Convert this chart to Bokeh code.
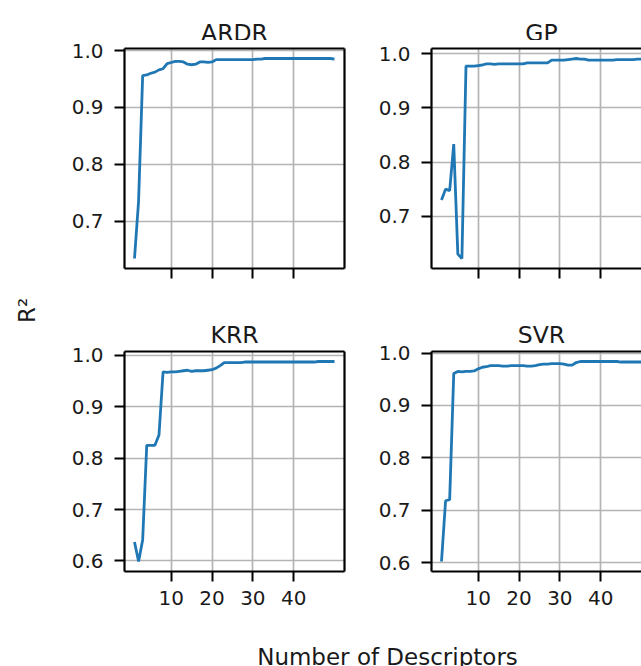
import math

from bokeh.embed import file_html
from bokeh.layouts import column, row
from bokeh.models import FixedTicker, Label, LinearAxis, NumeralTickFormatter, Range1d
from bokeh.plotting import figure
from bokeh.resources import INLINE

# ---- data: R^2 versus number of descriptors for four regressors ----
n_descriptors = list(range(1, 51))

ardr_r2 = [0.634, 0.735, 0.956, 0.957, 0.960, 0.962, 0.966, 0.968, 0.977, 0.979,
           0.981, 0.981, 0.980, 0.976, 0.975, 0.976, 0.980, 0.980, 0.979, 0.980,
           0.984, 0.984, 0.984, 0.984, 0.984, 0.984, 0.984, 0.984, 0.984, 0.984,
           0.985, 0.985, 0.986, 0.986, 0.986, 0.986, 0.986, 0.986, 0.986, 0.986,
           0.986, 0.986, 0.986, 0.986, 0.986, 0.986, 0.986, 0.986, 0.986, 0.985]

gp_r2 = [0.730, 0.750, 0.747, 0.833, 0.630, 0.622, 0.977, 0.977, 0.977, 0.978,
         0.979, 0.981, 0.981, 0.980, 0.981, 0.981, 0.981, 0.981, 0.981, 0.981,
         0.981, 0.983, 0.983, 0.983, 0.983, 0.983, 0.983, 0.988, 0.988, 0.988,
         0.988, 0.989, 0.990, 0.991, 0.990, 0.990, 0.988, 0.988, 0.988, 0.988,
         0.988, 0.988, 0.988, 0.989, 0.989, 0.989, 0.989, 0.989, 0.990, 0.990]

krr_r2 = [0.637, 0.599, 0.641, 0.825, 0.825, 0.825, 0.845, 0.968, 0.967, 0.968,
          0.968, 0.969, 0.970, 0.971, 0.969, 0.970, 0.970, 0.970, 0.971, 0.972,
          0.975, 0.980, 0.986, 0.986, 0.986, 0.986, 0.986, 0.987, 0.987, 0.987,
          0.987, 0.987, 0.987, 0.987, 0.987, 0.987, 0.987, 0.987, 0.987, 0.987,
          0.987, 0.987, 0.987, 0.987, 0.987, 0.988, 0.988, 0.988, 0.988, 0.988]

svr_r2 = [0.602, 0.718, 0.720, 0.961, 0.965, 0.964, 0.965, 0.965, 0.966, 0.970,
          0.973, 0.974, 0.976, 0.976, 0.976, 0.975, 0.975, 0.976, 0.976, 0.976,
          0.976, 0.975, 0.975, 0.976, 0.978, 0.979, 0.979, 0.980, 0.980, 0.980,
          0.979, 0.977, 0.977, 0.982, 0.984, 0.984, 0.984, 0.984, 0.984, 0.984,
          0.984, 0.984, 0.984, 0.984, 0.983, 0.983, 0.983, 0.983, 0.983, 0.983]

panel_titles = ["ARDR", "GP", "KRR", "SVR"]
x_ticks = [10, 20, 30, 40]
y_ticks_top = [0.7, 0.8, 0.9, 1.0]
y_ticks_bottom = [0.6, 0.7, 0.8, 0.9, 1.0]

FONT = "DejaVu Sans"
LINE_COLOR = "#1f77b4"
GRID_COLOR = "#b4b4b4"
INK = "black"
TEXT = "#1a1a1a"

# layout sizes in px
YLAB_W = 60
LEFT_W = dict(left=64, frame=220, right=23)
RIGHT_W = dict(left=64, frame=210, right=0)
FRAME_H = 220
TITLE1_H = 40          # strip holding the upper titles
TITLE2_H = 47          # strip holding the lower titles
TOP_ROW = dict(top=8, bottom=28)
BOTTOM_ROW = dict(top=8, bottom=44)
PAGE_W, PAGE_H = 641, 666


def padded(vals, frac=0.05):
    lo, hi = min(vals), max(vals)
    pad = (hi - lo) * frac
    return lo - pad, hi + pad


x_lo, x_hi = padded(n_descriptors)


def spine_axis():
    return LinearAxis(ticker=FixedTicker(ticks=[]),
                      axis_line_color=INK, axis_line_width=2.2,
                      major_tick_line_color=None, minor_tick_line_color=None,
                      major_label_text_font_size="0px", major_label_standoff=0)


def make_panel(r2, y_ticks, top_row, left_col):
    widths = LEFT_W if left_col else RIGHT_W
    x_end = x_hi if left_col else x_lo + (x_hi - x_lo) * widths["frame"] / LEFT_W["frame"]
    y0, y1 = padded(r2)
    borders = TOP_ROW if top_row else BOTTOM_ROW
    p = figure(frame_width=widths["frame"], frame_height=FRAME_H, title=None,
               x_range=Range1d(x_lo, x_end), y_range=Range1d(y0, y1),
               min_border_left=widths["left"], min_border_right=widths["right"],
               min_border_top=borders["top"], min_border_bottom=borders["bottom"],
               toolbar_location=None, output_backend="svg")
    p.line(n_descriptors, r2, line_color=LINE_COLOR, line_width=2.8)

    p.outline_line_color = None
    p.background_fill_color = "white"
    p.border_fill_color = "white"

    p.xaxis.ticker = FixedTicker(ticks=x_ticks)
    p.yaxis.ticker = FixedTicker(ticks=y_ticks)
    p.xgrid.ticker = FixedTicker(ticks=x_ticks)
    p.ygrid.ticker = FixedTicker(ticks=y_ticks)
    p.yaxis.formatter = NumeralTickFormatter(format="0.0")

    for ax in (p.xaxis[0], p.yaxis[0]):
        ax.axis_line_color = INK
        ax.axis_line_width = 2.2
        ax.major_tick_out = 10
        ax.major_tick_in = 0
        ax.major_tick_line_color = INK
        ax.major_tick_line_width = 2
        ax.minor_tick_line_color = None
        ax.major_label_text_font = FONT
        ax.major_label_text_font_size = "20px"
        ax.major_label_text_color = TEXT
    p.xaxis.major_label_standoff = 9
    p.yaxis.major_label_standoff = 11
    if top_row:
        # shared x axis: tick marks only on the upper panels
        p.xaxis.major_label_overrides = {t: "" for t in x_ticks}
        p.xaxis.major_label_text_font_size = "0px"
        p.xaxis.major_label_standoff = 0

    p.grid.grid_line_color = GRID_COLOR
    p.grid.grid_line_width = 1.7

    p.add_layout(spine_axis(), "above")
    if left_col:
        p.add_layout(spine_axis(), "right")
    return p


def blank(w, h):
    f = figure(width=w, height=h, title=None,
               x_range=Range1d(0, w), y_range=Range1d(0, h),
               x_axis_type=None, y_axis_type=None, min_border=0,
               toolbar_location=None, output_backend="svg")
    f.outline_line_color = None
    f.grid.visible = False
    f.border_fill_color = "white"
    f.background_fill_color = "white"
    return f


def text_label(x, y, text, size, **kw):
    return Label(x=x, y=y, text=text, text_font=FONT, text_font_size=size,
                 text_color=TEXT, **kw)


ardr = make_panel(ardr_r2, y_ticks_top, True, True)
gp = make_panel(gp_r2, y_ticks_top, True, False)
krr = make_panel(krr_r2, y_ticks_bottom, False, True)
svr = make_panel(svr_r2, y_ticks_bottom, False, False)

grid_w = sum(LEFT_W.values()) + sum(RIGHT_W.values())
left_cx = LEFT_W["left"] + LEFT_W["frame"] / 2
right_cx = sum(LEFT_W.values()) + RIGHT_W["left"] + LEFT_W["frame"] / 2


def title_strip(h, names, baseline_gap):
    s = blank(grid_w, h)
    for cx, name in zip((left_cx, right_cx), names):
        s.add_layout(text_label(cx, baseline_gap, name, "23.5px",
                                text_align="center", text_baseline="alphabetic"))
    return s


titles_top = title_strip(TITLE1_H, panel_titles[:2], 8)
titles_bottom = title_strip(TITLE2_H, panel_titles[2:], 9)

grid_h = (TITLE1_H + TOP_ROW["top"] + FRAME_H + TOP_ROW["bottom"]
          + TITLE2_H + BOTTOM_ROW["top"] + FRAME_H + BOTTOM_ROW["bottom"])

ylab_strip = blank(YLAB_W, grid_h)
ylab_strip.add_layout(text_label(26, grid_h - 310, "R²", "23px", angle=math.pi / 2,
                                 text_align="center", text_baseline="middle"))

xlab_strip = blank(PAGE_W, PAGE_H - grid_h)
xlab_strip.add_layout(text_label(387, 10, "Number of Descriptors", "23px",
                                 text_align="center", text_baseline="alphabetic"))

panels = column(titles_top, row(ardr, gp), titles_bottom, row(krr, svr))
layout = column(row(ylab_strip, panels), xlab_strip)

with open("out.html", "w") as fh:
    fh.write(file_html(layout, INLINE))
